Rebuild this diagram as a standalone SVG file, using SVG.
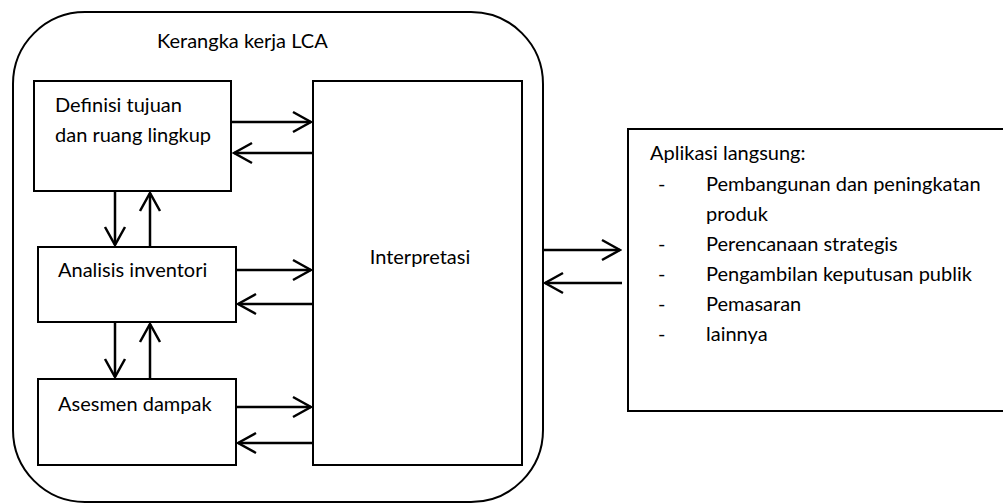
<svg xmlns="http://www.w3.org/2000/svg" width="1003" height="503" viewBox="0 0 1003 503">
  <defs>
    <marker id="open-arrow" markerUnits="userSpaceOnUse" markerWidth="22" markerHeight="24" viewBox="0 0 22 24" refX="20" refY="12" orient="auto">
      <path d="M2,2 L20,12 L2,22" fill="none" stroke="#000" stroke-width="2.5" stroke-linejoin="miter"/>
    </marker>
  </defs>
  <style>
    .box { fill: #fff; stroke: #000; stroke-width: 2; }
    .frame { fill: #fff; stroke: #000; stroke-width: 2; }
    .lbl { font-family: Lato, "Liberation Sans", sans-serif; font-size: 20px; fill: #000; }
    .link { stroke: #000; stroke-width: 2.5; fill: none; marker-end: url(#open-arrow); }
  </style>
  <rect width="1003" height="503" fill="#fff"/>

  <!-- LCA framework frame -->
  <g id="framework">
    <rect class="frame" x="13" y="12" width="530" height="490" rx="72" ry="72"/>
    <text class="lbl" x="157" y="48">Kerangka kerja LCA</text>
  </g>

  <g id="goal-scope">
    <rect class="box" x="34" y="81" width="197" height="110"/>
    <text class="lbl" x="55" y="112">Definisi tujuan</text>
    <text class="lbl" x="55" y="142">dan ruang lingkup</text>
  </g>

  <g id="inventory">
    <rect class="box" x="38" y="247" width="198" height="75"/>
    <text class="lbl" x="58" y="277">Analisis inventori</text>
  </g>

  <g id="impact">
    <rect class="box" x="38" y="379" width="198" height="86"/>
    <text class="lbl" x="58" y="411">Asesmen dampak</text>
  </g>

  <g id="interpretation">
    <rect class="box" x="313" y="81" width="209" height="384"/>
    <text class="lbl" x="420" y="264" text-anchor="middle">Interpretasi</text>
  </g>

  <g id="applications">
    <rect class="box" x="628" y="129" width="390" height="282"/>
    <text class="lbl" x="650" y="160">Aplikasi langsung:</text>
    <g class="lbl">
      <text x="658" y="191">-</text>
      <text x="706" y="191">Pembangunan dan peningkatan</text>
      <text x="706" y="221">produk</text>
      <text x="658" y="251">-</text>
      <text x="706" y="251">Perencanaan strategis</text>
      <text x="658" y="281">-</text>
      <text x="706" y="281">Pengambilan keputusan publik</text>
      <text x="658" y="311">-</text>
      <text x="706" y="311">Pemasaran</text>
      <text x="658" y="341">-</text>
      <text x="706" y="341">lainnya</text>
    </g>
  </g>

  <!-- connectors -->
  <g id="connectors">
    <line class="link" x1="231" y1="122" x2="311" y2="122"/>
    <line class="link" x1="313" y1="153" x2="234" y2="153"/>
    <line class="link" x1="236" y1="270" x2="311" y2="270"/>
    <line class="link" x1="313" y1="304" x2="238" y2="304"/>
    <line class="link" x1="236" y1="407" x2="311" y2="407"/>
    <line class="link" x1="313" y1="443" x2="238" y2="443"/>
    <line class="link" x1="115" y1="191" x2="115" y2="245"/>
    <line class="link" x1="150" y1="247" x2="150" y2="193"/>
    <line class="link" x1="115" y1="322" x2="115" y2="377"/>
    <line class="link" x1="150" y1="379" x2="150" y2="324"/>
    <line class="link" x1="543" y1="250" x2="620" y2="250"/>
    <line class="link" x1="622" y1="283" x2="545" y2="283"/>
  </g>
</svg>
